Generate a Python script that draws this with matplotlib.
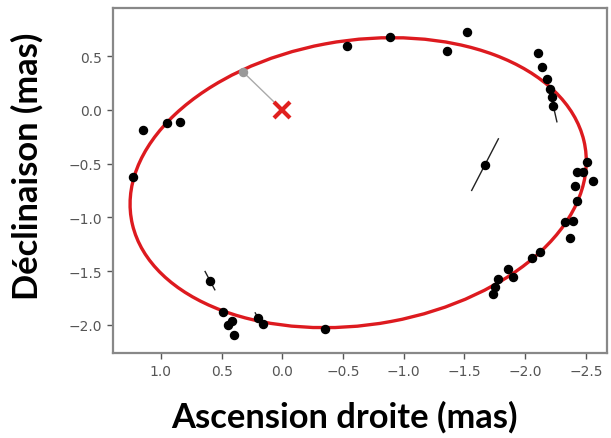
import matplotlib.pyplot as plt
from matplotlib.patches import Ellipse
import numpy as np

# astrometric positions (mas)
ra = [1.145, 0.952, 0.843, 1.227, -0.535, -0.887, -1.354, -1.519, -2.109, -2.137,
      -2.178, -2.205, -2.219, -2.232, -1.670, -2.507, -2.425, -2.479, -2.562, -2.411,
      -2.425, -2.397, -2.329, -2.370, -2.123, -2.054, -1.862, -1.903, -1.779, -1.752,
      -1.738, 0.596, 0.486, 0.417, 0.445, 0.398, 0.198, 0.161, -0.352]
dec = [-0.183, -0.121, -0.109, -0.627, 0.599, 0.677, 0.552, 0.729, 0.528, 0.398,
       0.289, 0.196, 0.118, 0.040, -0.509, -0.481, -0.580, -0.580, -0.658, -0.705,
       -0.845, -1.031, -1.046, -1.195, -1.319, -1.381, -1.480, -1.558, -1.574, -1.651,
       -1.713, -1.589, -1.878, -1.962, -2.002, -2.092, -1.939, -1.993, -2.039]
# half-length of the (tilted) error bars
err_ra = [0.01] * len(ra)
err_dec = [0.02] * len(ra)
err_ra[13], err_dec[13] = -0.03, -0.15
err_ra[14], err_dec[14] = -0.11, 0.24
err_ra[31], err_dec[31] = 0.04, 0.085
err_ra[36], err_dec[36] = 0.025, 0.05

# fitted apparent orbit and periastron
orbit_center = (-0.625, -0.677)
orbit_axes = (1.90, 1.32)
orbit_angle = -11.85
periastron = (0.321, 0.351)

xticks = [1.0, 0.5, 0.0, -0.5, -1.0, -1.5, -2.0, -2.5]
yticks = [0.5, 0.0, -0.5, -1.0, -1.5, -2.0]

fig = plt.figure(figsize=(6.11, 4.39), dpi=100)
ax = fig.add_axes([0.1845, 0.193, 0.809, 0.786])

orbit = Ellipse(orbit_center, 2 * orbit_axes[0], 2 * orbit_axes[1], angle=orbit_angle,
                fill=False, edgecolor='#dd1a1f', lw=2.4, zorder=2)
ax.add_patch(orbit)

for x, y, ex, ey in zip(ra, dec, err_ra, err_dec):
    ax.plot([x - ex, x + ex], [y - ey, y + ey], color='#222222', lw=1.0, zorder=3)
ax.plot(ra, dec, 'o', color='black', ms=5.8, zorder=4)

ax.plot([0, periastron[0]], [0, periastron[1]], color='#aaaaaa', lw=1.0, zorder=3)
ax.plot(*periastron, 'o', color='#999999', ms=5.8, zorder=4)
ax.plot(0, 0, 'x', color='#e0201e', ms=11, mew=3, zorder=5)

ax.set_xlim(1.397, -2.675)
ax.set_ylim(-2.265, 0.947)
ax.set_xticks(xticks)
ax.set_yticks(yticks)
ax.tick_params(labelsize=10, colors='#555555', length=4, width=1)
for s in ax.spines.values():
    s.set_color('#888888')
    s.set_linewidth(1.6)

fig.text(344.5 / 611, 1 - 417 / 439, 'Ascension droite (mas)', ha='center', va='center',
         fontsize=24.8, fontweight='bold', family='Lato')
fig.text(27 / 611, 1 - 166.5 / 439, 'Déclinaison (mas)', ha='center', va='center',
         rotation=90, fontsize=24.8, fontweight='bold', family='Lato')

fig.savefig('out.png', dpi=100)
